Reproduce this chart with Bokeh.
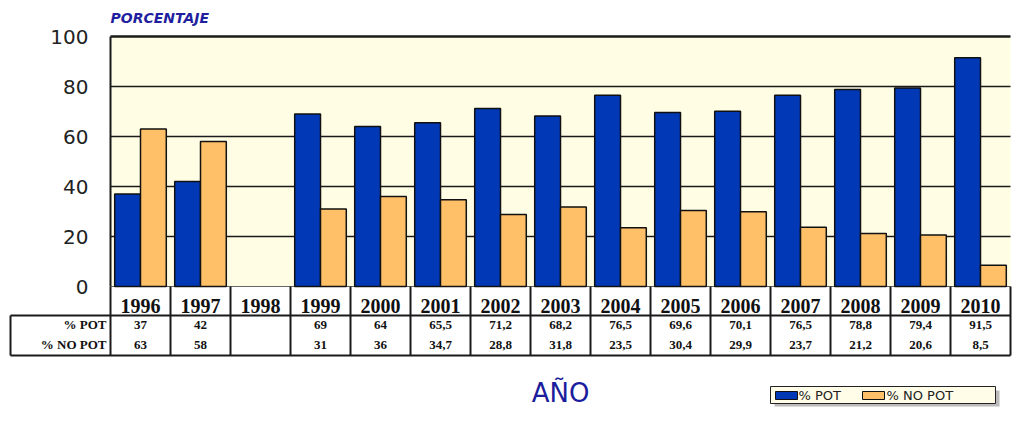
from bokeh.plotting import figure
from bokeh.models import Range1d
from bokeh.core.properties import value
from bokeh.embed import file_html
from bokeh.resources import INLINE

# ---------------- data ----------------
years = ["1996", "1997", "1998", "1999", "2000", "2001", "2002", "2003",
         "2004", "2005", "2006", "2007", "2008", "2009", "2010"]
pot = [37, 42, None, 69, 64, 65.5, 71.2, 68.2, 76.5, 69.6, 70.1, 76.5, 78.8, 79.4, 91.5]
no_pot = [63, 58, None, 31, 36, 34.7, 28.8, 31.8, 23.5, 30.4, 29.9, 23.7, 21.2, 20.6, 8.5]
y_ticks = [0, 20, 40, 60, 80, 100]
series_names = ["% POT", "% NO POT"]
series_colors = ["#0038B6", "#FFC068"]
y_label = "PORCENTAJE"
x_label = "AÑO"

# ---------------- layout helpers (picture pixels -> data units) ----------------
W, H = 1012, 407
CAT = 60.0      # px per category
X0 = 110        # x of category 0 left edge
Y0 = 286        # y of value 0
YPX = 2.5       # px per percentage unit


def X(px):
    return (px - X0) / CAT


def Y(py):
    return (Y0 - py) / YPX


n = len(years)

p = figure(width=W, height=H,
           x_range=Range1d(X(0), X(W)),
           y_range=Range1d(Y(H), Y(0)),
           output_backend="svg", toolbar_location=None,
           x_axis_location=None, y_axis_location=None,
           min_border=0)
p.grid.visible = False
p.outline_line_color = None
p.background_fill_color = "white"
p.border_fill_color = "white"

# plot background
p.quad(left=0, right=n, bottom=y_ticks[0], top=y_ticks[-1],
       fill_color="#FFFDE4", line_color=None)

# grid lines
inner = y_ticks[1:-1]
p.segment(x0=[0] * len(inner), x1=[n] * len(inner), y0=inner, y1=inner,
          line_color="#1a1a1a", line_width=1.6)
# frame top / left / bottom
p.segment(x0=[0], x1=[n], y0=[y_ticks[-1]], y1=[y_ticks[-1]],
          line_color="#1a1a1a", line_width=2.4)
p.segment(x0=[0], x1=[0], y0=[y_ticks[0]], y1=[y_ticks[-1]],
          line_color="#1a1a1a", line_width=2)
p.segment(x0=[0], x1=[n], y0=[y_ticks[0]], y1=[y_ticks[0]],
          line_color="#666666", line_width=1)

# bars
bw = 0.43
idx_p = [i for i, v in enumerate(pot) if v is not None]
idx_n = [i for i, v in enumerate(no_pot) if v is not None]
p.vbar(x=[i + 0.285 for i in idx_p], top=[pot[i] for i in idx_p], bottom=0,
       width=bw, fill_color=series_colors[0], line_color="#111111", line_width=1.5)
p.vbar(x=[i + 0.715 for i in idx_n], top=[no_pot[i] for i in idx_n], bottom=0,
       width=bw, fill_color=series_colors[1], line_color="#111111", line_width=1.5)

# y tick labels
p.text(x=[X(88)] * len(y_ticks), y=y_ticks, text=[str(t) for t in y_ticks],
       text_font=value("DejaVu Sans"), text_font_size="20px",
       text_color="#222222", text_align="right", text_baseline="middle")

# y label
p.text(x=[X(110)], y=[Y(17)], text=[y_label],
       text_font=value("DejaVu Sans"), text_font_size="14px",
       text_font_style="bold italic", text_color="#1F1FA0",
       text_align="left", text_baseline="middle")

# ---------------- data table ----------------
bounds = list(range(n + 1))
p.segment(x0=bounds, x1=bounds, y0=[0] * len(bounds), y1=[Y(355)] * len(bounds),
          line_color="#1a1a1a", line_width=2)
p.segment(x0=[X(10), X(10)], x1=[n, n], y0=[Y(315), Y(355)], y1=[Y(315), Y(355)],
          line_color="#1a1a1a", line_width=2)
p.segment(x0=[X(10)], x1=[X(10)], y0=[Y(315)], y1=[Y(355)],
          line_color="#1a1a1a", line_width=2)

# year headers
p.text(x=[i + 0.5 for i in range(n)], y=[Y(305)] * n, text=years,
       text_font=value("Liberation Serif"), text_font_size="20px",
       text_font_style="bold", text_color="#111111",
       text_align="center", text_baseline="middle")


def fmt(v):
    return "" if v is None else f"{v:g}".replace(".", ",")


row_y = [Y(324), Y(344)]
for vals, ry in zip([pot, no_pot], row_y):
    p.text(x=[i + 0.5 for i in range(n)], y=[ry] * n, text=[fmt(v) for v in vals],
           text_font=value("Liberation Serif"), text_font_size="13px",
           text_font_style="bold", text_color="#111111",
           text_align="center", text_baseline="middle")
p.text(x=[X(106)] * 2, y=row_y, text=series_names,
       text_font=value("Liberation Serif"), text_font_size="13px",
       text_font_style="bold", text_color="#111111",
       text_align="right", text_baseline="middle")

# x label
p.text(x=[X(560)], y=[Y(392)], text=[x_label],
       text_font=value("DejaVu Sans"), text_font_size="26px",
       text_color="#1C1C9C", text_align="center", text_baseline="middle")

# ---------------- legend (bottom right) ----------------
p.quad(left=[X(774)], right=[X(999)], top=[Y(390)], bottom=[Y(406)],
       fill_color="#BBBBBB", line_color=None)
p.quad(left=[X(770)], right=[X(995)], top=[Y(386)], bottom=[Y(403)],
       fill_color="#FFFDE8", line_color="#222222", line_width=1)
sw_left = [X(775), X(862)]
txt_x = [X(798), X(886)]
p.quad(left=sw_left, right=[s + X(797) - X(775) for s in sw_left],
       top=[Y(391)] * 2, bottom=[Y(399)] * 2,
       fill_color=series_colors, line_color="#111111", line_width=1)
p.text(x=txt_x, y=[Y(395)] * 2, text=series_names,
       text_font=value("DejaVu Sans"), text_font_size="13px",
       text_color="#222222", text_align="left", text_baseline="middle")

open("out.html", "w").write(file_html(p, INLINE))
